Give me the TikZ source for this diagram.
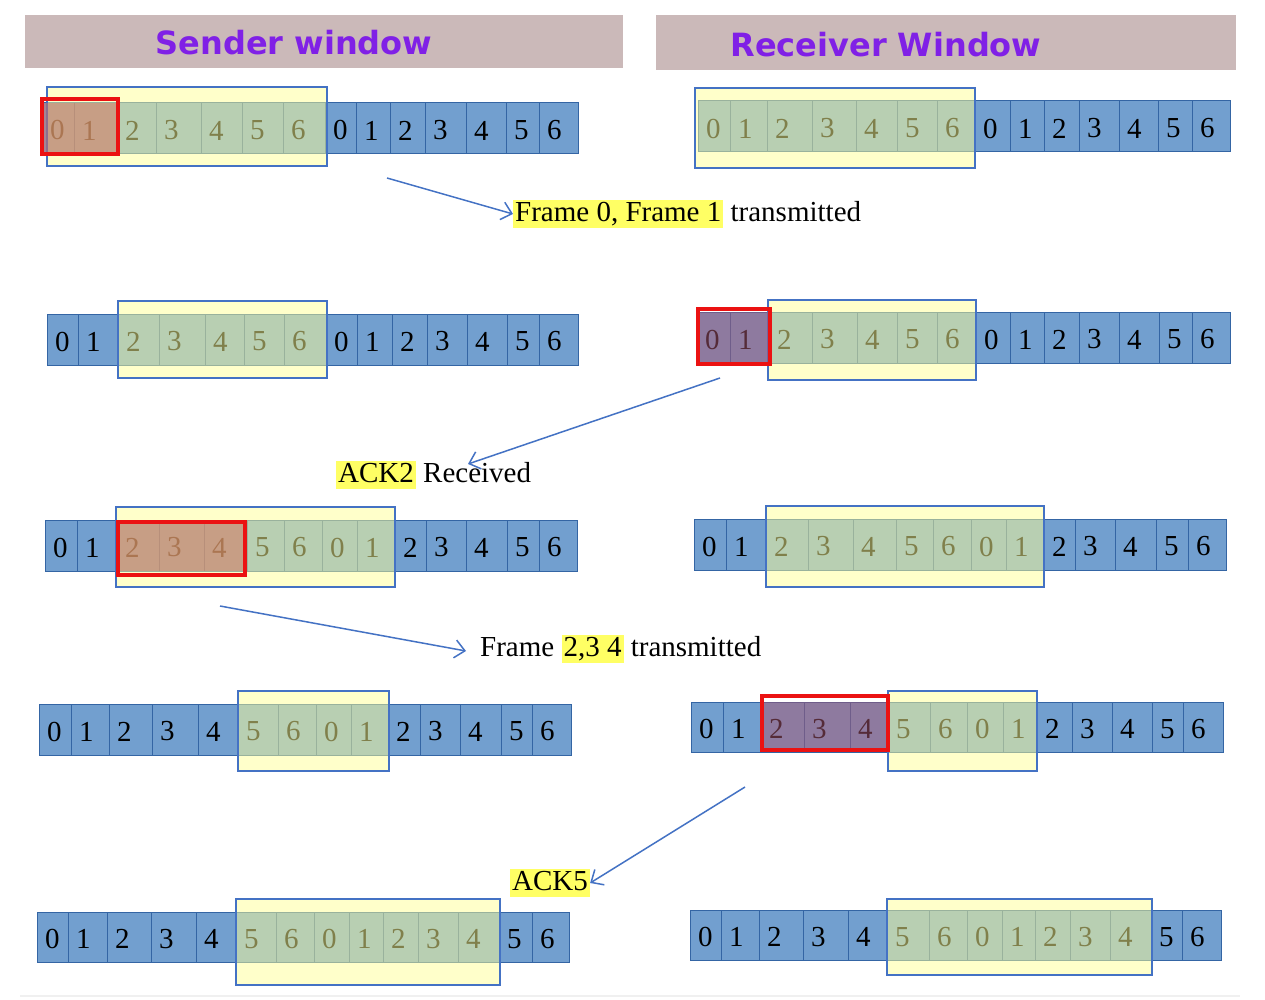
\documentclass[tikz,border=0pt]{standalone}
\usepackage{fontspec}
\setmainfont{Liberation Serif}
\newfontfamily\hdrfont{DejaVu Sans}
\usetikzlibrary{arrows.meta}
\definecolor{cellblue}{RGB}{114,159,207}
\definecolor{celledge}{RGB}{52,101,164}
\definecolor{winfill}{RGB}{255,255,150}
\definecolor{winedge}{RGB}{68,114,196}
\definecolor{sendhl}{RGB}{214,110,90}
\definecolor{recvhl}{RGB}{170,87,113}
\definecolor{redbox}{RGB}{235,18,18}
\definecolor{hdrfill}{RGB}{203,185,185}
\definecolor{hdrtext}{RGB}{128,32,230}
\definecolor{hlyellow}{RGB}{255,255,100}
\definecolor{arrowblue}{RGB}{68,114,196}
\newcommand{\mkhl}[1]{{\setlength{\fboxsep}{2pt}\colorbox{hlyellow}{\vphantom{A,}#1}}}
\newcommand{\cellrow}[4]{%
  \foreach \xr [count=\i, remember=\xr as \xl (initially 0)] in {#4} {%
    \ifnum\i>1
      \pgfmathtruncatemacro{\dg}{mod(\i-2,7)}%
      \pgfmathtruncatemacro{\k}{\i-2}%
      \draw[cellbox] (\xl,#2) rectangle (\xr,#3);
      \node[digit] (#1-\k) at (\xl+8,{(#2+#3)/2+2}) {\dg};
    \fi
  }%
}
\begin{document}
\begin{tikzpicture}[x=1pt,y=-1pt,
  cellbox/.style={fill=cellblue, draw=celledge, line width=1pt},
  digit/.style={anchor=west, inner sep=0pt, font=\fontsize{29}{33}\selectfont},
  window/.style={fill=winfill, fill opacity=0.5, draw=winedge, line width=1.3pt},
  sendmark/.style={fill=sendhl, fill opacity=0.5},
  recvmark/.style={fill=recvhl, fill opacity=0.5},
  redframe/.style={draw=redbox, line width=3.2pt},
  hdrbox/.style={fill=hdrfill, draw=none},
  hdrtxt/.style={text=hdrtext, font=\hdrfont\bfseries\fontsize{32}{36}\selectfont, inner sep=0pt},
  lbl/.style={anchor=west, inner sep=0pt, font=\fontsize{29}{34}\selectfont},
  conn/.style={draw=arrowblue, line width=1.5pt, -{Straight Barb[length=10pt,width=18pt]}}]
\useasboundingbox (0,0) rectangle (1265,1000);
\fill[white] (0,0) rectangle (1265,1000);

% headers
\draw[hdrbox] (25,15) rectangle (623,68);
\draw[hdrbox] (656,15) rectangle (1236,70);
\node[hdrtxt] (sendhdr) at (294,43) {Sender window};
\node[hdrtxt] (recvhdr) at (886,45) {Receiver Window};

% row 1
\cellrow{s1}{103}{154}{42,74,117,156,201,242,283,325,356,390,425,466,506,539,578}
\draw[window] (47,87) rectangle (327,166);
\fill[sendmark] (42,103) rectangle (117,154);
\draw[redframe] (42,99) rectangle (118,154);

\cellrow{r1}{101}{152}{698,730,767,812,856,897,937,975,1010,1044,1079,1119,1158,1192,1230}
\draw[window] (695,88) rectangle (975,168);

% row 2
\cellrow{s2}{314}{365}{47,78,118,159,205,244,284,326,357,392,427,467,507,539,578}
\draw[window] (118,301) rectangle (327,378);

\cellrow{r2}{312}{363}{697,730,769,812,857,897,937,976,1010,1044,1079,1119,1159,1192,1230}
\draw[window] (768,300) rectangle (976,380);
\fill[recvmark] (697,312) rectangle (769,363);
\draw[redframe] (698,309) rectangle (770,364);

% row 3
\cellrow{s3}{520}{571}{45,77,117,159,204,247,284,322,357,395,426,466,507,539,577}
\draw[window] (116,507) rectangle (395,587);
\fill[sendmark] (117,520) rectangle (247,571);
\draw[redframe] (118,522) rectangle (245,575);

\cellrow{r3}{519}{570}{694,726,766,808,853,896,933,971,1006,1044,1075,1115,1156,1188,1226}
\draw[window] (766,506) rectangle (1044,587);

% row 4
\cellrow{s4}{704}{755}{39,71,109,152,198,238,278,316,351,388,420,460,501,532,571}
\draw[window] (238,691) rectangle (389,771);

\cellrow{r4}{702}{752}{691,723,761,804,850,888,930,967,1003,1037,1072,1112,1152,1183,1223}
\draw[window] (888,691) rectangle (1037,771);
\fill[recvmark] (761,702) rectangle (888,752);
\draw[redframe] (762,696) rectangle (888,750);

% row 5
\cellrow{s5}{912}{962}{37,68,107,151,196,236,276,314,349,383,418,458,499,532,569}
\draw[window] (236,899) rectangle (500,985);

\cellrow{r5}{910}{960}{690,721,759,803,848,887,929,967,1002,1035,1070,1110,1151,1182,1221}
\draw[window] (887,899) rectangle (1152,975);

% labels
\node[lbl] (lab1) at (513,214) {\mkhl{Frame 0, Frame 1} transmitted};
\node[lbl] (lab2) at (336,475) {\mkhl{ACK2} Received};
\node[lbl] (lab3) at (480,649) {Frame \mkhl{2,3 4} transmitted};
\node[lbl] (lab4) at (510,883) {\mkhl{ACK5}};

% connectors
\coordinate (a1s) at (387,178);
\coordinate (a2s) at (720,378);
\coordinate (a2e) at (468,464);
\coordinate (a3s) at (220,606);
\coordinate (a3e) at (466,651);
\coordinate (a4s) at (745,787);
\draw[conn] (a1s) -- (lab1.west);
\draw[conn] (a2s) -- (a2e);
\draw[conn] (a3s) -- (a3e);
\draw[conn] (a4s) -- (lab4.east);

% faint bottom rule
\draw[black!6, line width=2pt] (20,996) -- (1240,996);
\end{tikzpicture}
\end{document}
